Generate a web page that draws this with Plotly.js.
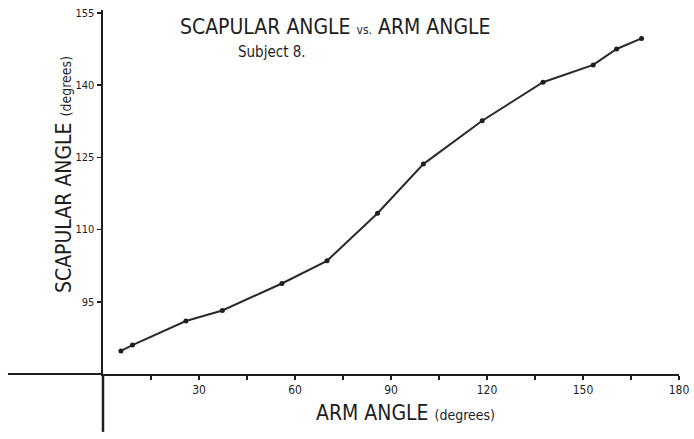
<!DOCTYPE html>
<html>
<head>
<meta charset="utf-8">
<script src="https://cdn.plot.ly/plotly-3.0.1.min.js"></script>
<style>
  html, body { margin: 0; padding: 0; background: #fff; }
  #chart { width: 694px; height: 439px; }
</style>
</head>
<body>
<div id="chart"></div>
<script>
// Arm angle (degrees) and scapular angle (degrees), Subject 8
const armAngle = [5.6, 9.2, 25.9, 37.3, 55.9, 70.0, 85.8, 100.1, 118.5, 137.5, 153.2, 160.5, 168.3];
const scapularAngle = [84.8, 86.0, 91.0, 93.2, 98.8, 103.5, 113.4, 123.6, 132.6, 140.6, 144.2, 147.5, 149.7];

const xTickVals = [15, 30, 45, 60, 75, 90, 105, 120, 135, 150, 165, 180];
const xTickText = ['', '30', '', '60', '', '90', '', '120', '', '150', '', '180'];
const yTickVals = [95, 110, 125, 140, 155];
const yTickText = ['95', '110', '125', '140', '155'];

const handFont = '"DejaVu Sans Condensed", "Liberation Sans Narrow", "DejaVu Sans", sans-serif';
const ink = '#1e1e1e';

const trace = {
  x: armAngle,
  y: scapularAngle,
  type: 'scatter',
  mode: 'lines+markers',
  line: { color: '#2a2a2a', width: 2 },
  marker: { color: ink, size: 5 },
  hoverinfo: 'x+y',
  showlegend: false
};

const layout = {
  width: 694,
  height: 439,
  margin: { l: 103, r: 15, t: 10, b: 65 },
  paper_bgcolor: '#ffffff',
  plot_bgcolor: '#ffffff',
  font: { family: handFont, color: ink },
  xaxis: {
    range: [0, 180],
    showgrid: false,
    zeroline: false,
    showline: true,
    linecolor: ink,
    linewidth: 2,
    ticks: 'outside',
    ticklen: 4,
    tickwidth: 1.5,
    tickcolor: ink,
    tickvals: xTickVals,
    ticktext: xTickText,
    tickfont: { family: handFont, size: 12, color: ink },
    fixedrange: true
  },
  yaxis: {
    range: [80, 155.6],
    showgrid: false,
    zeroline: false,
    showline: true,
    linecolor: ink,
    linewidth: 2.5,
    ticks: 'outside',
    ticklen: 4,
    tickwidth: 1.5,
    tickcolor: ink,
    tickvals: yTickVals,
    ticktext: yTickText,
    tickfont: { family: handFont, size: 11, color: ink },
    ticklabelstandoff: 0,
    fixedrange: true
  },
  shapes: [
    { type: 'line', xref: 'paper', yref: 'paper', x0: -0.165, x1: 0, y0: 0, y1: 0,
      line: { color: ink, width: 2 } },
    { type: 'line', xref: 'paper', yref: 'paper', x0: 0, x1: 0, y0: -0.159, y1: 0,
      line: { color: ink, width: 2.5 } }
  ],
  annotations: [
    { text: 'SCAPULAR ANGLE <span style="font-size:12px">vs.</span> ARM ANGLE',
      xref: 'paper', yref: 'paper', x: (335 - 103) / 576, y: 1 - (27 - 10) / 364,
      xanchor: 'center', yanchor: 'middle', showarrow: false,
      font: { family: handFont, size: 21, color: ink } },
    { text: 'Subject 8.',
      xref: 'paper', yref: 'paper', x: (272 - 103) / 576, y: 1 - (52 - 10) / 364,
      xanchor: 'center', yanchor: 'middle', showarrow: false,
      font: { family: handFont, size: 15, color: ink } },
    { text: 'ARM ANGLE <span style="font-size:14px">(degrees)</span>',
      xref: 'paper', yref: 'paper', x: (405 - 103) / 576, y: -(413 - 374) / 364,
      xanchor: 'center', yanchor: 'middle', showarrow: false,
      font: { family: handFont, size: 21, color: ink } },
    { text: 'SCAPULAR ANGLE <span style="font-size:14px">(degrees)</span>',
      xref: 'paper', yref: 'paper', x: -(103 - 64) / 576, y: 1 - (175 - 10) / 364,
      xanchor: 'center', yanchor: 'middle', textangle: -90, showarrow: false,
      font: { family: handFont, size: 21, color: ink } }
  ]
};

Plotly.newPlot('chart', [trace], layout, { displayModeBar: false, staticPlot: true });
</script>
</body>
</html>
